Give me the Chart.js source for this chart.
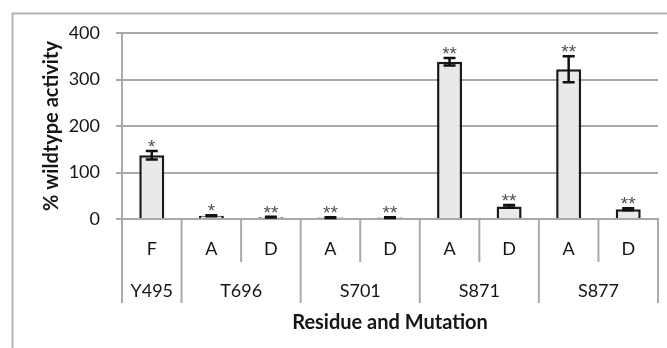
<!DOCTYPE html>
<html>
<head>
<meta charset="utf-8">
<script src="https://cdn.jsdelivr.net/npm/chart.js@4.4.1/dist/chart.umd.min.js"></script>
<style>
  html, body { margin: 0; padding: 0; background: #fff; }
  #wrap { width: 667px; height: 348px; position: relative; }
</style>
</head>
<body>
<div id="wrap"><canvas id="myChart" width="667" height="348"></canvas></div>
<script>
// values
const mutations = ["F", "A", "D", "A", "D", "A", "D", "A", "D"];
const residues = ["Y495", "T696", "T696", "S701", "S701", "S871", "S871", "S877", "S877"];
const activity = [137, 7, 4, 3, 3, 338, 27, 322, 21];
const errors = [9, 1, 1, 1, 1, 8, 3, 28, 2];
const stars = ["*", "*", "**", "**", "**", "**", "**", "**", "**"];
const yTicks = [0, 100, 200, 300, 400];

const FONT = "Lato, 'Open Sans', sans-serif";
const GRID = "#a9a9a9";
const INK = "#151515";

// outer frame (clipped by the picture at right / bottom)
const framePlugin = {
  id: "frame",
  beforeDraw(chart) {
    const ctx = chart.ctx;
    ctx.save();
    ctx.strokeStyle = "#b3b3b3";
    ctx.lineWidth = 2;
    ctx.strokeRect(12.5, 13.5, 700, 400);
    ctx.restore();
  }
};

// error bars + significance stars
const errorPlugin = {
  id: "errs",
  afterDatasetsDraw(chart) {
    const ctx = chart.ctx, x = chart.scales.x, y = chart.scales.y;
    ctx.save();
    activity.forEach((v, i) => {
      const cx = x.getPixelForValue(i);
      const top = y.getPixelForValue(v + errors[i]);
      const bot = y.getPixelForValue(v - errors[i]);
      ctx.strokeStyle = "#111";
      ctx.lineWidth = 2.5;
      ctx.beginPath();
      ctx.moveTo(cx, top); ctx.lineTo(cx, bot);
      ctx.moveTo(cx - 6, top); ctx.lineTo(cx + 6, top);
      ctx.moveTo(cx - 6, bot); ctx.lineTo(cx + 6, bot);
      ctx.stroke();
      ctx.fillStyle = "#505050";
      ctx.font = "19px 'Liberation Sans', Arial, sans-serif";
      ctx.textAlign = "center";
      ctx.textBaseline = "alphabetic";
      ctx.fillText(stars[i], cx, top + 2);
    });
    ctx.restore();
  }
};

// category dividers and the residue row below the axis
const groupPlugin = {
  id: "groups",
  afterDraw(chart) {
    const ctx = chart.ctx, x = chart.scales.x;
    const base = chart.chartArea.bottom;
    const half = (x.getPixelForValue(1) - x.getPixelForValue(0)) / 2;
    ctx.save();
    ctx.strokeStyle = GRID;
    ctx.lineWidth = 2;
    for (let i = 0; i <= mutations.length; i++) {
      const px = i < mutations.length ? x.getPixelForValue(i) - half : x.getPixelForValue(i - 1) + half;
      const isGroupEdge = i === 0 || i === mutations.length || residues[i] !== residues[i - 1];
      ctx.beginPath();
      ctx.moveTo(px, base);
      ctx.lineTo(px, base + (isGroupEdge ? 84 : 43));
      ctx.stroke();
    }
    // residue labels
    ctx.fillStyle = INK;
    ctx.font = "18px " + FONT;
    ctx.textAlign = "center";
    ctx.textBaseline = "middle";
    let start = 0;
    for (let i = 1; i <= residues.length; i++) {
      if (i === residues.length || residues[i] !== residues[start]) {
        const cx = (x.getPixelForValue(start) + x.getPixelForValue(i - 1)) / 2;
        ctx.fillText(residues[start], cx, base + 72);
        start = i;
      }
    }
    ctx.restore();
  }
};

new Chart(document.getElementById("myChart"), {
  type: "bar",
  data: {
    labels: mutations,
    datasets: [{
      data: activity,
      backgroundColor: "#e9e9e9",
      borderColor: "#1a1a1a",
      borderWidth: 2.5,
      barPercentage: 0.42,
      categoryPercentage: 1
    }]
  },
  options: {
    responsive: false,
    animation: false,
    layout: { padding: { top: 33, right: 9, bottom: 0, left: 0 } },
    plugins: { legend: { display: false }, tooltip: { enabled: false } },
    scales: {
      x: {
        grid: { display: false },
        border: { color: GRID, width: 2 },
        ticks: { color: INK, font: { family: FONT, size: 18 }, padding: 11, maxRotation: 0 },
        title: {
          display: true,
          text: "Residue and Mutation",
          color: INK,
          font: { family: FONT, size: 20, weight: "bold" },
          padding: { top: 0, bottom: 13 }
        },
        afterFit: (s) => { s.height = 129; }
      },
      y: {
        min: 0,
        max: 400,
        afterBuildTicks: (s) => { s.ticks = yTicks.map((v) => ({ value: v })); },
        grid: { color: GRID, lineWidth: 2, tickLength: 6 },
        border: { color: GRID, width: 2 },
        ticks: { color: INK, font: { family: FONT, size: 18 }, padding: 16 },
        title: {
          display: true,
          text: "% wildtype activity",
          color: INK,
          font: { family: FONT, size: 20, weight: "bold" },
          padding: { top: 40, bottom: 40 }
        },
        afterFit: (s) => { s.width = 122; }
      }
    }
  },
  plugins: [framePlugin, errorPlugin, groupPlugin]
});
</script>
</body>
</html>
